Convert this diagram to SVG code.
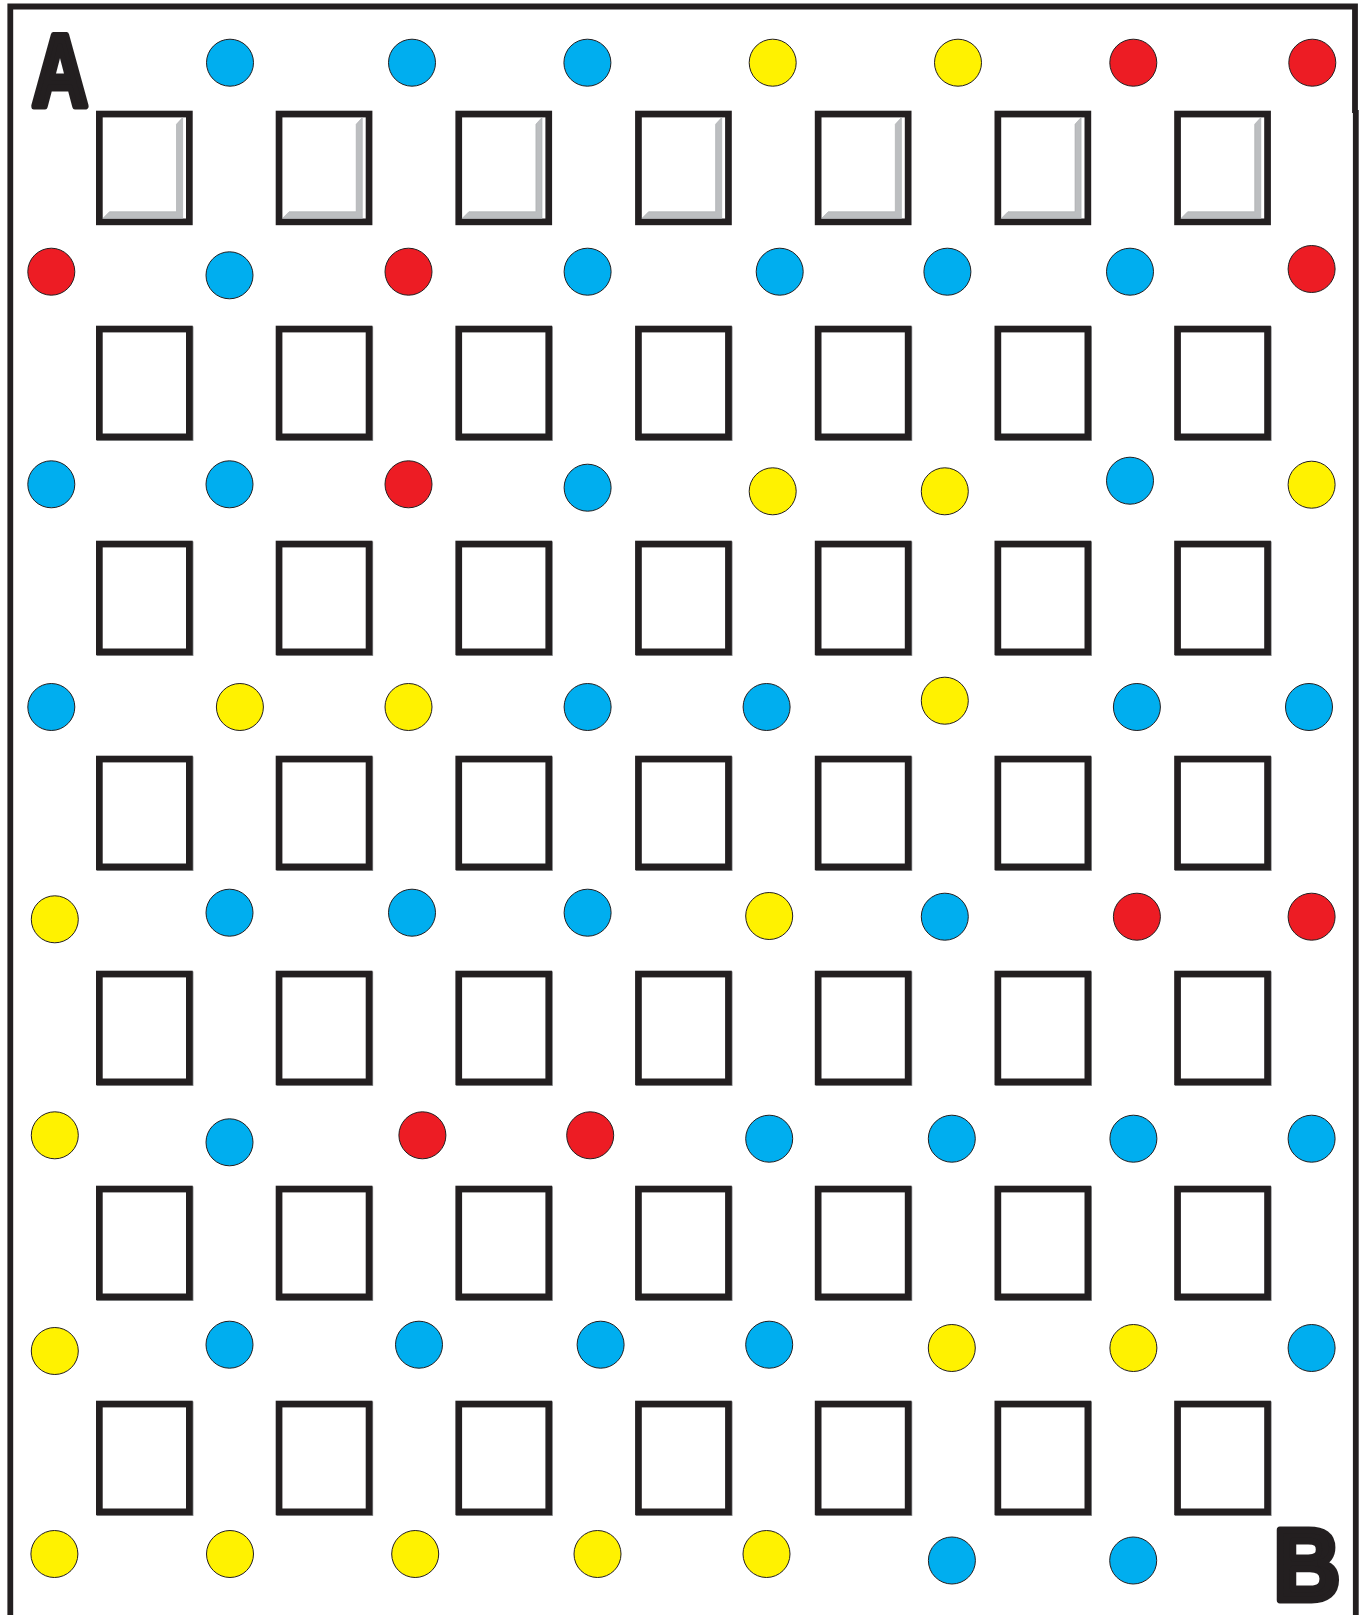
<svg xmlns="http://www.w3.org/2000/svg" xmlns:xlink="http://www.w3.org/1999/xlink" width="1363" height="1615" viewBox="0 0 1363 1615">
<style>
.sq{fill:#fff;stroke:#231f20;stroke-width:6.7}
.sh{fill:none;stroke:#8a8c8e;stroke-width:6.7}
.bev{fill:#bcbec0;stroke:#a7a9ac;stroke-width:0.6}
.c{stroke:#231f20;stroke-width:1}
.b{fill:#00aeef}
.y{fill:#fff200}
.r{fill:#ed1c24}
.frame{fill:none;stroke:#231f20;stroke-width:5.8}
.lt{font-family:"Liberation Sans",Arial,sans-serif;font-weight:bold;font-size:102px;fill:#231f20;stroke:#231f20;stroke-width:7;stroke-linejoin:round}
</style>
<defs>
<g id="box">
<rect class="sh" x="4.1" y="4.1" width="90" height="107.8"/>
<rect class="sq" x="3.35" y="3.35" width="90" height="107.8"/>
</g>
<g id="boxb">
<rect class="sq" x="3.35" y="3.35" width="90" height="107.8"/>
<polygon class="bev" points="86.6,6.8 86.6,107.7 6.8,107.7 13.5,101 80.5,101 80.5,13.5"/>
</g>
</defs>
<rect width="1363" height="1615" fill="#fff"/>
<g id="frame">
<polyline class="frame" points="10.3,1615 10.3,6.5 1355,6.5 1355,113"/>
<line class="frame" x1="1355.8" y1="110" x2="1355.8" y2="1615"/>
</g>
<g id="label-A"><text class="lt" transform="translate(60,106) scale(0.76,1)" text-anchor="middle">A</text></g>
<g id="label-B"><text class="lt" transform="translate(1307,1600) scale(0.9,1)" text-anchor="middle">B</text></g>
<g id="squares">
<g id="s1-1"><use xlink:href="#boxb" x="96" y="110.7"/></g>
<g id="s1-2"><use xlink:href="#boxb" x="275.7" y="110.7"/></g>
<g id="s1-3"><use xlink:href="#boxb" x="455.4" y="110.7"/></g>
<g id="s1-4"><use xlink:href="#boxb" x="635.1" y="110.7"/></g>
<g id="s1-5"><use xlink:href="#boxb" x="814.8" y="110.7"/></g>
<g id="s1-6"><use xlink:href="#boxb" x="994.5" y="110.7"/></g>
<g id="s1-7"><use xlink:href="#boxb" x="1174.2" y="110.7"/></g>
<g id="s2-1"><use xlink:href="#box" x="96" y="325.7"/></g>
<g id="s2-2"><use xlink:href="#box" x="275.7" y="325.7"/></g>
<g id="s2-3"><use xlink:href="#box" x="455.4" y="325.7"/></g>
<g id="s2-4"><use xlink:href="#box" x="635.1" y="325.7"/></g>
<g id="s2-5"><use xlink:href="#box" x="814.8" y="325.7"/></g>
<g id="s2-6"><use xlink:href="#box" x="994.5" y="325.7"/></g>
<g id="s2-7"><use xlink:href="#box" x="1174.2" y="325.7"/></g>
<g id="s3-1"><use xlink:href="#box" x="96" y="540.7"/></g>
<g id="s3-2"><use xlink:href="#box" x="275.7" y="540.7"/></g>
<g id="s3-3"><use xlink:href="#box" x="455.4" y="540.7"/></g>
<g id="s3-4"><use xlink:href="#box" x="635.1" y="540.7"/></g>
<g id="s3-5"><use xlink:href="#box" x="814.8" y="540.7"/></g>
<g id="s3-6"><use xlink:href="#box" x="994.5" y="540.7"/></g>
<g id="s3-7"><use xlink:href="#box" x="1174.2" y="540.7"/></g>
<g id="s4-1"><use xlink:href="#box" x="96" y="755.7"/></g>
<g id="s4-2"><use xlink:href="#box" x="275.7" y="755.7"/></g>
<g id="s4-3"><use xlink:href="#box" x="455.4" y="755.7"/></g>
<g id="s4-4"><use xlink:href="#box" x="635.1" y="755.7"/></g>
<g id="s4-5"><use xlink:href="#box" x="814.8" y="755.7"/></g>
<g id="s4-6"><use xlink:href="#box" x="994.5" y="755.7"/></g>
<g id="s4-7"><use xlink:href="#box" x="1174.2" y="755.7"/></g>
<g id="s5-1"><use xlink:href="#box" x="96" y="970.7"/></g>
<g id="s5-2"><use xlink:href="#box" x="275.7" y="970.7"/></g>
<g id="s5-3"><use xlink:href="#box" x="455.4" y="970.7"/></g>
<g id="s5-4"><use xlink:href="#box" x="635.1" y="970.7"/></g>
<g id="s5-5"><use xlink:href="#box" x="814.8" y="970.7"/></g>
<g id="s5-6"><use xlink:href="#box" x="994.5" y="970.7"/></g>
<g id="s5-7"><use xlink:href="#box" x="1174.2" y="970.7"/></g>
<g id="s6-1"><use xlink:href="#box" x="96" y="1185.7"/></g>
<g id="s6-2"><use xlink:href="#box" x="275.7" y="1185.7"/></g>
<g id="s6-3"><use xlink:href="#box" x="455.4" y="1185.7"/></g>
<g id="s6-4"><use xlink:href="#box" x="635.1" y="1185.7"/></g>
<g id="s6-5"><use xlink:href="#box" x="814.8" y="1185.7"/></g>
<g id="s6-6"><use xlink:href="#box" x="994.5" y="1185.7"/></g>
<g id="s6-7"><use xlink:href="#box" x="1174.2" y="1185.7"/></g>
<g id="s7-1"><use xlink:href="#box" x="96" y="1400.7"/></g>
<g id="s7-2"><use xlink:href="#box" x="275.7" y="1400.7"/></g>
<g id="s7-3"><use xlink:href="#box" x="455.4" y="1400.7"/></g>
<g id="s7-4"><use xlink:href="#box" x="635.1" y="1400.7"/></g>
<g id="s7-5"><use xlink:href="#box" x="814.8" y="1400.7"/></g>
<g id="s7-6"><use xlink:href="#box" x="994.5" y="1400.7"/></g>
<g id="s7-7"><use xlink:href="#box" x="1174.2" y="1400.7"/></g>
</g>
<g id="dots">
<g id="d1-2"><circle class="c b" cx="230" cy="62.7" r="23.5"/></g>
<g id="d1-3"><circle class="c b" cx="412" cy="62.7" r="23.5"/></g>
<g id="d1-4"><circle class="c b" cx="587.4" cy="62.7" r="23.5"/></g>
<g id="d1-5"><circle class="c y" cx="772.7" cy="62.7" r="23.5"/></g>
<g id="d1-6"><circle class="c y" cx="958" cy="62.7" r="23.5"/></g>
<g id="d1-7"><circle class="c r" cx="1133.3" cy="62.7" r="23.5"/></g>
<g id="d1-8"><circle class="c r" cx="1312.3" cy="62.7" r="23.5"/></g>

<g id="d2-1"><circle class="c r" cx="51.3" cy="271.7" r="23.5"/></g>
<g id="d2-2"><circle class="c b" cx="229.5" cy="275.3" r="23.5"/></g>
<g id="d2-3"><circle class="c r" cx="408.5" cy="271.7" r="23.5"/></g>
<g id="d2-4"><circle class="c b" cx="587.6" cy="271.7" r="23.5"/></g>
<g id="d2-5"><circle class="c b" cx="779.7" cy="271.7" r="23.5"/></g>
<g id="d2-6"><circle class="c b" cx="947.4" cy="271.7" r="23.5"/></g>
<g id="d2-7"><circle class="c b" cx="1130" cy="271.7" r="23.5"/></g>
<g id="d2-8"><circle class="c r" cx="1311.6" cy="269" r="23.5"/></g>

<g id="d3-1"><circle class="c b" cx="51.3" cy="484.3" r="23.5"/></g>
<g id="d3-2"><circle class="c b" cx="229.5" cy="484.3" r="23.5"/></g>
<g id="d3-3"><circle class="c r" cx="408.5" cy="484.3" r="23.5"/></g>
<g id="d3-4"><circle class="c b" cx="587.6" cy="487.7" r="23.5"/></g>
<g id="d3-5"><circle class="c y" cx="772.7" cy="491.3" r="23.5"/></g>
<g id="d3-6"><circle class="c y" cx="944.8" cy="491.3" r="23.5"/></g>
<g id="d3-7"><circle class="c b" cx="1130" cy="480.7" r="23.5"/></g>
<g id="d3-8"><circle class="c y" cx="1311.6" cy="484.7" r="23.5"/></g>

<g id="d4-1"><circle class="c b" cx="51.3" cy="707" r="23.5"/></g>
<g id="d4-2"><circle class="c y" cx="239.9" cy="707" r="23.5"/></g>
<g id="d4-3"><circle class="c y" cx="408.5" cy="707" r="23.5"/></g>
<g id="d4-4"><circle class="c b" cx="587.6" cy="707" r="23.5"/></g>
<g id="d4-5"><circle class="c b" cx="766.6" cy="707" r="23.5"/></g>
<g id="d4-6"><circle class="c y" cx="944.8" cy="700.7" r="23.5"/></g>
<g id="d4-7"><circle class="c b" cx="1136.9" cy="707" r="23.5"/></g>
<g id="d4-8"><circle class="c b" cx="1309" cy="707" r="23.5"/></g>

<g id="d5-1"><circle class="c y" cx="54.8" cy="919.3" r="23.5"/></g>
<g id="d5-2"><circle class="c b" cx="229.5" cy="912.7" r="23.5"/></g>
<g id="d5-3"><circle class="c b" cx="412" cy="912.7" r="23.5"/></g>
<g id="d5-4"><circle class="c b" cx="587.6" cy="912.7" r="23.5"/></g>
<g id="d5-5"><circle class="c y" cx="769.2" cy="916" r="23.5"/></g>
<g id="d5-6"><circle class="c b" cx="944.8" cy="916.7" r="23.5"/></g>
<g id="d5-7"><circle class="c r" cx="1136.9" cy="916.7" r="23.5"/></g>
<g id="d5-8"><circle class="c r" cx="1311.6" cy="916.7" r="23.5"/></g>

<g id="d6-1"><circle class="c y" cx="54.8" cy="1135.3" r="23.5"/></g>
<g id="d6-2"><circle class="c b" cx="229.5" cy="1142.3" r="23.5"/></g>
<g id="d6-3"><circle class="c r" cx="422.4" cy="1135.3" r="23.5"/></g>
<g id="d6-4"><circle class="c r" cx="590.2" cy="1135.3" r="23.5"/></g>
<g id="d6-5"><circle class="c b" cx="769.2" cy="1138.7" r="23.5"/></g>
<g id="d6-6"><circle class="c b" cx="951.8" cy="1138.7" r="23.5"/></g>
<g id="d6-7"><circle class="c b" cx="1133.4" cy="1138.7" r="23.5"/></g>
<g id="d6-8"><circle class="c b" cx="1311.6" cy="1138.7" r="23.5"/></g>

<g id="d7-1"><circle class="c y" cx="54.8" cy="1351" r="23.5"/></g>
<g id="d7-2"><circle class="c b" cx="229.5" cy="1344.7" r="23.5"/></g>
<g id="d7-3"><circle class="c b" cx="419" cy="1344.7" r="23.5"/></g>
<g id="d7-4"><circle class="c b" cx="600.6" cy="1344.7" r="23.5"/></g>
<g id="d7-5"><circle class="c b" cx="769.2" cy="1344.7" r="23.5"/></g>
<g id="d7-6"><circle class="c y" cx="951.8" cy="1348" r="23.5"/></g>
<g id="d7-7"><circle class="c y" cx="1133.4" cy="1348" r="23.5"/></g>
<g id="d7-8"><circle class="c b" cx="1311.6" cy="1348" r="23.5"/></g>

<g id="d8-1"><circle class="c y" cx="54.4" cy="1554" r="23.5"/></g>
<g id="d8-2"><circle class="c y" cx="230" cy="1554" r="23.5"/></g>
<g id="d8-3"><circle class="c y" cx="415.2" cy="1554" r="23.5"/></g>
<g id="d8-4"><circle class="c y" cx="597.5" cy="1554" r="23.5"/></g>
<g id="d8-5"><circle class="c y" cx="766.5" cy="1554" r="23.5"/></g>
<g id="d8-6"><circle class="c b" cx="951.9" cy="1560.5" r="23.5"/></g>
<g id="d8-7"><circle class="c b" cx="1133.2" cy="1560.5" r="23.5"/></g>
</g>
</svg>
